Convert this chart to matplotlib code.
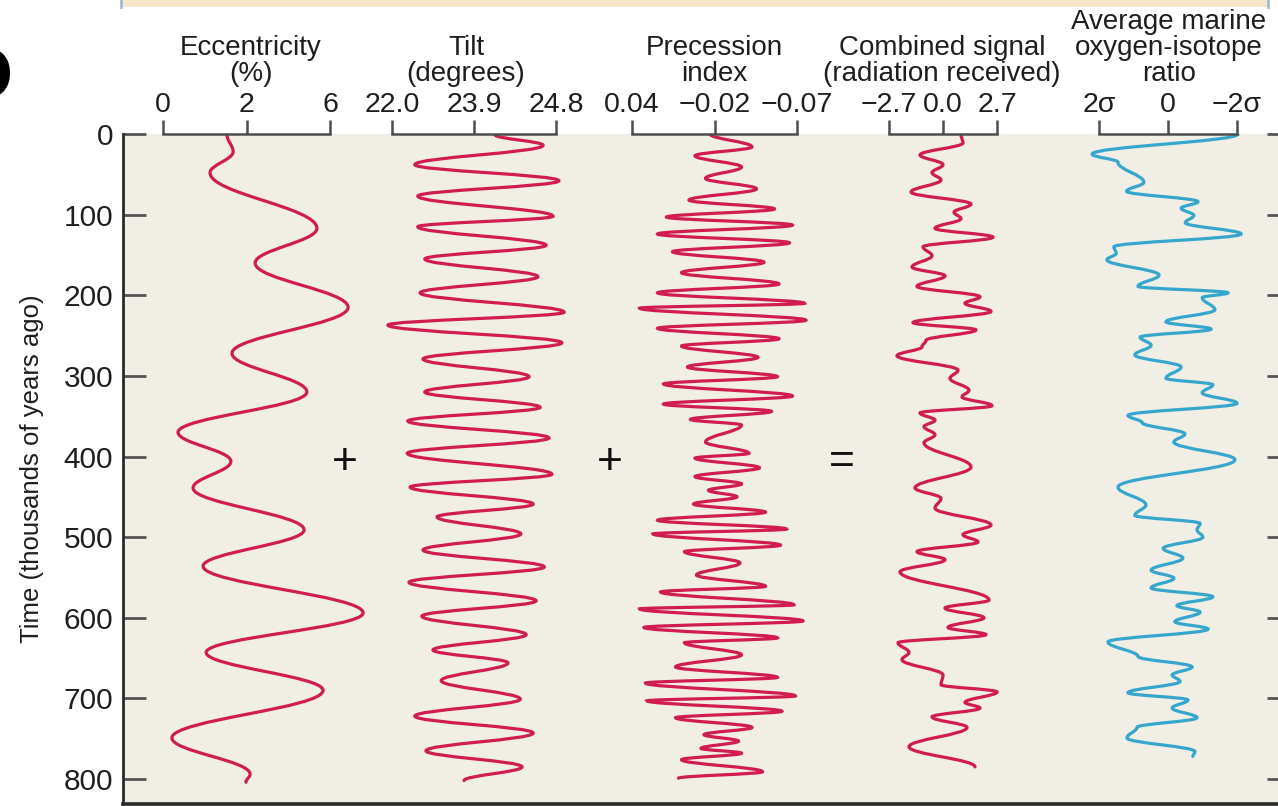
import matplotlib.pyplot as plt
from matplotlib.path import Path
from matplotlib.patches import PathPatch, Rectangle
from matplotlib.lines import Line2D

plt.rcParams['font.family'] = ['Liberation Sans', 'DejaVu Sans']

#%%
# values; time in thousands of years ago
time_ticks = [0, 100, 200, 300, 400, 500, 600, 700, 800]

ecc_time = [1, 22, 48, 117, 160, 215, 272, 320, 370, 406, 439, 491, 536, 594,
            643, 690, 749, 794, 804]
ecc_pct = [2.30, 2.52, 1.69, 5.53, 3.31, 6.65, 2.48, 5.17, 0.54, 2.44, 1.08,
           5.07, 1.44, 7.19, 1.55, 5.75, 0.32, 3.13, 2.98]

tilt_time = [1, 14, 38, 58, 77, 102, 115, 138, 155, 177, 197, 221, 237, 259,
             279, 301, 320, 339, 356, 377, 396, 422, 438, 459, 475, 496, 516,
             537, 556, 579, 598, 621, 640, 656, 678, 701, 722, 743, 765, 785, 802]
tilt_deg = [23.76, 24.58, 22.39, 24.85, 22.44, 24.75, 22.44, 24.63, 22.56,
            24.49, 22.48, 24.94, 21.93, 24.90, 22.53, 24.34, 22.56, 24.53,
            22.27, 24.68, 22.26, 24.73, 22.31, 24.41, 22.77, 24.20, 22.53,
            24.60, 22.29, 24.46, 22.51, 24.29, 22.70, 23.98, 22.84, 24.19,
            22.39, 24.41, 22.58, 24.22, 23.23]

prec_time = [0, 16, 27, 41, 55, 68, 82, 93, 103, 113, 124, 135, 146, 159, 172,
             186, 197, 210, 216, 231, 241, 254, 263, 277, 289, 301, 310, 325,
             335, 344, 354, 361, 382, 396, 402, 414, 425, 434, 442, 450, 459,
             469, 479, 490, 496, 510, 518, 532, 547, 561, 568, 584, 589, 604,
             612, 625, 631, 646, 661, 674, 681, 697, 703, 716, 724, 736, 745,
             753, 762, 768, 776, 791, 799]
prec_idx = [-0.012, -0.040, -0.002, -0.033, -0.009, -0.043, 0.002, -0.055,
            0.017, -0.067, 0.023, -0.065, 0.013, -0.048, 0.007, -0.058, 0.023,
            -0.075, 0.035, -0.076, 0.023, -0.058, 0.007, -0.044, 0.003, -0.057,
            0.019, -0.067, 0.019, -0.053, 0.001, -0.033, -0.009, -0.038,
            -0.002, -0.045, -0.002, -0.033, -0.011, -0.030, -0.001, -0.049,
            0.023, -0.063, 0.026, -0.059, 0.005, -0.032, -0.003, -0.049, 0.021,
            -0.068, 0.035, -0.074, 0.032, -0.057, 0.005, -0.033, 0.011, -0.057,
            0.031, -0.069, 0.030, -0.060, 0.011, -0.040, -0.008, -0.031,
            -0.006, -0.033, 0.007, -0.047, 0.009]

comb_time = [1, 11, 26, 38, 48, 57, 72, 87, 97, 105, 117, 128, 140, 151, 165,
             176, 189, 202, 210, 220, 234, 243, 256, 264, 275, 293, 303, 318,
             326, 337, 346, 355, 363, 373, 383, 413, 439, 452, 464, 485, 497,
             506, 518, 528, 543, 578, 588, 600, 612, 621, 631, 643, 652, 671,
             683, 692, 705, 712, 723, 736, 760, 785]
comb_val = [0.9, 1.0, -1.15, 0.0, -0.55, -0.1, -1.6, 1.4, 0.55, 0.9, -0.4, 2.5,
            -1.0, -0.55, -1.55, 0.1, -1.3, 1.85, 1.1, 2.4, -1.5, 1.65, -0.85,
            -1.05, -2.3, 0.75, 0.35, 1.3, 0.95, 2.45, -1.15, -0.4, -0.95, -0.4,
            -0.95, 1.4, -1.4, -0.1, -0.4, 2.4, 1.0, 1.75, -1.3, 0.1, -2.15, 2.3,
            0.1, 2.05, 0.25, 2.15, -2.25, -1.7, -2.05, 0.0, -0.1, 2.7, 1.1,
            1.85, -0.55, 1.2, -1.7, 1.6]

iso_time = [0, 25, 35, 60, 71, 84, 92, 101, 110, 124, 140, 148, 156, 175, 189,
            197, 203, 218, 233, 242, 252, 262, 274, 289, 303, 311, 321, 334,
            349, 358, 372, 382, 404, 438, 460, 473, 483, 491, 500, 514, 526,
            541, 551, 563, 574, 585, 593, 605, 614, 630, 648, 661, 671, 679,
            693, 702, 712, 724, 736, 749, 766, 772]
iso_sigma = [-2.03, 2.2, 1.45, 0.7, 1.2, -0.87, -0.38, -0.75, -0.5, -2.12, 1.57,
             1.5, 1.77, 0.26, 0.87, -1.74, -0.99, -1.36, 0.06, -1.25, 0.81,
             0.49, 0.96, -0.38, 0.06, -1.3, -0.99, -2.0, 1.16, 0.75, -0.49,
             -0.17, -1.94, 1.45, 0.64, 0.96, -0.93, -0.84, -1.01, 0.14, -0.43,
             0.49, -0.17, 0.49, -1.3, -0.26, -0.93, -0.20, -1.16, 1.74, 0.87,
             -0.70, -0.12, -0.35, 1.16, -0.58, -0.12, -0.84, 0.90, 1.19, -0.78,
             -0.72]

ecc_ticks, ecc_labels = [0, 3, 6], ['0', '2', '6']
tilt_ticks, tilt_labels = [22.0, 23.4, 24.8], ['22.0', '23.9', '24.8']
prec_ticks, prec_labels = [0.04, -0.015, -0.07], ['0.04', '\u22120.02', '\u22120.07']
comb_ticks, comb_labels = [-2.7, 0.0, 2.7], ['\u22122.7', '0.0', '2.7']
iso_ticks, iso_labels = [2, 0, -2], ['2\u03c3', '0', '\u22122\u03c3']

#%%
W, H = 1278, 806
AX_L, AX_R, AX_T, AX_B = 123, 1290, 134, 804
T_BOTTOM = 831
RED = '#d01c50'
BLUE = '#36a6cc'


def fx(x):
    return x / W


def fy(y):
    return 1 - y / H


def smooth_path(vals, times, k=0.38):
    # cubic segments between turning points, vertical tangent at each point
    verts = [(vals[0], times[0])]
    codes = [Path.MOVETO]
    for i in range(len(vals) - 1):
        dt = times[i + 1] - times[i]
        verts += [(vals[i], times[i] + k * dt),
                  (vals[i + 1], times[i + 1] - k * dt),
                  (vals[i + 1], times[i + 1])]
        codes += [Path.CURVE4] * 3
    return Path(verts, codes)


fig = plt.figure(figsize=(12.78, 8.06), dpi=100)
rect = [fx(AX_L), fy(AX_B), (AX_R - AX_L) / W, (AX_B - AX_T) / H]

ax = fig.add_axes(rect)
ax.set_facecolor('#f1efe5')
ax.set_ylim(T_BOTTOM, 0)
ax.set_xlim(0, 1)
ax.set_xticks([])
ax.set_yticks(time_ticks)
ax.tick_params(axis='y', direction='in', length=16.5, width=2, color='#555555',
               labelsize=21.5, pad=7, left=True, right=True, labelcolor='#1e1e1e')
ax.spines['top'].set_visible(False)
ax.spines['right'].set_visible(False)
ax.spines['left'].set_color('#2a2a2a')
ax.spines['left'].set_linewidth(2)
ax.spines['bottom'].set_color('#2a2a2a')
ax.spines['bottom'].set_linewidth(2.6)

fig.text(fx(32), fy(469), 'Time (thousands of years ago)', rotation=90,
         ha='center', va='center', fontsize=18.5, color='#1e1e1e')

# one overlay axes per column, x scale set by its bracket
columns = [
    (ecc_pct, ecc_time, (0, 6), (163, 330), ecc_ticks, ecc_labels, RED),
    (tilt_deg, tilt_time, (22.0, 24.8), (392, 556), tilt_ticks, tilt_labels, RED),
    (prec_idx, prec_time, (0.04, -0.07), (632, 797), prec_ticks, prec_labels, RED),
    (comb_val, comb_time, (-2.7, 2.7), (889, 997), comb_ticks, comb_labels, RED),
    (iso_sigma, iso_time, (2, -2), (1099, 1237), iso_ticks, iso_labels, BLUE),
]

for vals, times, (a, b), (pl, pr), ticks, labels, color in columns:
    cax = fig.add_axes(rect, facecolor='none')
    s = (b - a) / (pr - pl)
    cax.set_xlim(a + (AX_L - pl) * s, a + (AX_R - pl) * s)
    cax.set_ylim(T_BOTTOM, 0)
    cax.set_yticks([])
    for side in ['left', 'right', 'bottom']:
        cax.spines[side].set_visible(False)
    cax.spines['top'].set_bounds(a, b)
    cax.spines['top'].set_color('#4d4d4d')
    cax.spines['top'].set_linewidth(1.8)
    cax.xaxis.tick_top()
    cax.set_xticks(ticks, labels)
    cax.tick_params(axis='x', direction='out', length=10, width=1.8,
                    color='#4d4d4d', pad=1.5, labelsize=20.5, labelcolor='#1e1e1e')
    cax.add_patch(PathPatch(smooth_path(vals, times), facecolor='none',
                            edgecolor=color, lw=2.3, capstyle='round'))

headers = [
    (251, ['Eccentricity', '(%)']),
    (466, ['Tilt', '(degrees)']),
    (714, ['Precession', 'index']),
    (942, ['Combined signal', '(radiation received)']),
    (1169, ['Average marine', 'oxygen-isotope', 'ratio']),
]
for xc, lines in headers:
    for j, line in enumerate(reversed(lines)):
        fig.text(fx(xc), fy(81 - 26 * j), line, ha='center', va='baseline',
                 fontsize=20, color='#1e1e1e')

for xc, sym in [(345, '+'), (610, '+'), (842, '=')]:
    fig.text(fx(xc), fy(462), sym, ha='center', va='center', fontsize=32,
             color='#111111')

# strip of the panel above, cut off at the top edge
fig.patches.append(Rectangle((fx(121), fy(7)), (1268 - 121) / W, 7 / H,
                             transform=fig.transFigure, facecolor='#f5e7c8',
                             edgecolor='none'))
for xe in (121, 1268):
    fig.add_artist(Line2D([fx(xe), fx(xe)], [fy(0), fy(7)], color='#9cc0d6', lw=2))

# panel letter, mostly outside the picture
fig.text(fx(14), fy(96), 'b', fontsize=60, fontweight='bold', ha='right',
         va='baseline', family='DejaVu Sans', color='black')

fig.savefig('out.png', dpi=100)
